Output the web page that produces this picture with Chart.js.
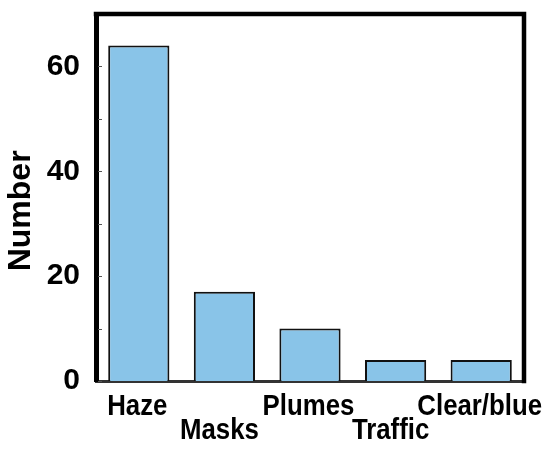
<!DOCTYPE html>
<html>
<head>
<meta charset="utf-8">
<script src="https://cdn.jsdelivr.net/npm/chart.js@4.4.0/dist/chart.umd.min.js"></script>
<style>
  html, body { margin: 0; padding: 0; background: #ffffff; }
  #wrap { width: 550px; height: 455px; position: relative; }
</style>
</head>
<body>
<div id="wrap"><canvas id="c"></canvas></div>
<script>
// ---- data ----
const categories = ['Haze', 'Masks', 'Plumes', 'Traffic', 'Clear/blue'];
const counts = [64, 17, 10, 4, 4];
const yTickLabels = [0, 20, 40, 60];
const yTickMarks = [0, 10, 20, 30, 40, 50, 60];
const yMax = 70;
const yTitle = 'Number';

const LABEL_FONT = "bold 30px 'Liberation Sans', Arial, sans-serif";

const framePlugin = {
  id: 'frame',
  afterDraw(chart) {
    const { ctx, chartArea: a, scales } = chart;
    ctx.save();
    // inside tick marks on y axis
    ctx.strokeStyle = '#555';
    ctx.lineWidth = 1;
    yTickMarks.forEach(v => {
      const y = Math.round(scales.y.getPixelForValue(v)) + 0.5;
      ctx.beginPath();
      ctx.moveTo(a.left + 2, y);
      ctx.lineTo(a.left + 6, y);
      ctx.stroke();
    });
    // top and right frame
    ctx.strokeStyle = '#000';
    ctx.lineWidth = 4.5;
    ctx.lineCap = 'square';
    ctx.beginPath();
    ctx.moveTo(a.left, a.top);
    ctx.lineTo(a.right, a.top);
    ctx.lineTo(a.right, a.bottom);
    ctx.stroke();
    // category labels (condensed, alternating rows)
    ctx.fillStyle = '#000';
    ctx.font = LABEL_FONT;
    ctx.textAlign = 'center';
    ctx.textBaseline = 'alphabetic';
    categories.forEach((c, i) => {
      const lower = i % 2 === 1;
      const x = scales.x.getPixelForValue(i) + (lower ? -5 : -1.5);
      const y = a.bottom + (lower ? 58 : 34);
      ctx.save();
      ctx.translate(x, y);
      ctx.scale(0.86, 1);
      ctx.fillText(c, 0, 0);
      ctx.restore();
    });
    ctx.restore();
  }
};

new Chart(document.getElementById('c'), {
  type: 'bar',
  data: {
    labels: categories,
    datasets: [{
      data: counts,
      backgroundColor: '#89C4E8',
      borderColor: '#111',
      borderWidth: 2,
      borderSkipped: 'bottom',
      barPercentage: 0.715,
      categoryPercentage: 1.0
    }]
  },
  options: {
    responsive: true,
    maintainAspectRatio: false,
    animation: false,
    layout: { padding: { top: 14, right: 26, left: 0, bottom: 0 } },
    plugins: { legend: { display: false }, tooltip: { enabled: false } },
    scales: {
      x: {
        grid: { display: false },
        border: { display: true, color: '#333', width: 3 },
        ticks: { display: false },
        afterFit(scale) {
          scale.height = 74;
          scale.paddingLeft = 0; scale.paddingRight = 0;
        }
      },
      y: {
        min: 0,
        max: yMax,
        grid: { display: false },
        border: { display: true, color: '#000', width: 5 },
        afterBuildTicks(scale) { scale.ticks = yTickLabels.map(v => ({ value: v })); },
        ticks: {
          color: '#000',
          padding: 8,
          font: { family: "'Liberation Sans', Arial, sans-serif", weight: 'bold', size: 30 }
        },
        title: {
          display: true,
          text: yTitle + '   ',
          color: '#000',
          padding: { top: 2, bottom: 0 },
          font: { family: "'Liberation Sans', Arial, sans-serif", weight: 'bold', size: 32 }
        },
        afterFit(scale) {
          scale.width = 96;
          scale.paddingTop = 0; scale.paddingBottom = 0;
        }
      }
    }
  },
  plugins: [framePlugin]
});
</script>
</body>
</html>
